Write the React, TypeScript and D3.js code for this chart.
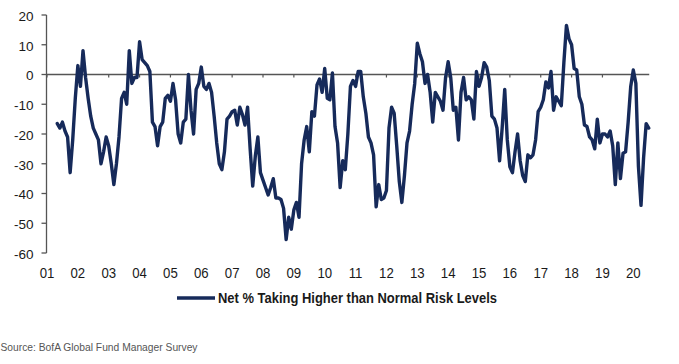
import React from "react";
import * as d3 from "d3";

// Monthly survey values, first point = May 2001
const startYear = 2001;
const startMonth = 5;
const riskValues: number[] = [
  // 2001 (May-Dec)
  -16.5, -18, -16, -19, -21, -33, -22, -8,
  // 2002
  3, -4, 8, -1, -8, -14, -18, -20, -22, -30, -26, -21,
  // 2003
  -24, -30, -37, -30, -21, -8, -6, -10, 8, -3, -1, -1,
  // 2004
  11, 5, 4, 3, 1, -16, -17.5, -24, -17.5, -16, -8, -7,
  // 2005
  -9, -3, -8.5, -20, -23, -16, -15, 0, -12, -20, -5, -3,
  // 2006
  2.5, -4, -5, -3, -6, -14, -23, -30, -32, -26, -15, -14,
  // 2007
  -12.5, -12, -17, -11, -13.5, -17, -11, -25, -37.5, -27.5, -21, -33,
  // 2008
  -35.5, -38, -40.5, -38, -35, -41.5, -41.5, -42, -45, -55.5, -48, -52,
  // 2009
  -45.5, -43, -48, -30, -22, -17.5, -26, -12.5, -14, -3.5, -1.5, -6,
  // 2010
  2, -8, -8.5, 0.5, -17.5, -23, -38, -29, -32, -20, -4, -2,
  // 2011
  -4, 1, 1, -7.5, -13, -21, -23, -27, -44.5, -37, -42, -41.5,
  // 2012
  -39, -18, -11, -13, -24, -36, -43, -34, -23, -19, -10, -3,
  // 2013
  10.5, 7, 4.3, -3, 0, -6, -16, -6, -7.5, -9, -12, -1,
  // 2014
  4.3, -1, -12, -11, -22, -6, -1, -8.5, -7.5, -8.5, -15, 1,
  // 2015
  -4, -1, 4, 2.5, -2, -14, -15, -18, -29, -18, -5, -22,
  // 2016
  -31, -33, -26, -20, -29, -34, -36, -27, -28, -27, -22, -12.5,
  // 2017
  -11, -8.5, -2.5, -4.5, 1, -12, -7.5, -9, -10.5, 4, 16.5, 12,
  // 2018
  10, 2, 1.5, -7.5, -10, -17, -17.5, -21, -22, -25, -15, -23,
  // 2019
  -20, -20, -21, -19, -24, -37, -23, -35, -26.5, -26, -16, -4,
  // 2020
  1.5, -3, -31, -44, -28, -16.5, -18,
];

const xTickYears = d3.range(2001, 2021);
const xTickLabels = xTickYears.map((y) => String(y % 100).padStart(2, "0"));
const yTicks = [20, 10, 0, -10, -20, -30, -40, -50, -60];

const seriesName = "Net % Taking Higher than Normal Risk Levels";
const sourceText = "Source: BofA Global Fund Manager Survey";

const W = 679;
const H = 364;
const LINE = "#162a5a";
const FONT = "'Liberation Sans', Arial, sans-serif";

export default function App() {
  const x = d3.scaleLinear().domain([2001, 2020]).range([47, 633.3]);
  const y = d3.scaleLinear().domain([-60, 20]).range([253, 15]);

  const pts = riskValues.map((v, i) => {
    const m = startMonth - 1 + i;
    return { t: startYear + m / 12, v };
  });
  const line = d3
    .line<{ t: number; v: number }>()
    .x((d) => x(d.t))
    .y((d) => y(d.v))
    .curve(d3.curveLinear);

  const axisX = 46.5;
  const zeroEnd = x(2020.5) + 0.5;

  return (
    <svg
      width={W}
      height={H}
      viewBox={`0 0 ${W} ${H}`}
      style={{ position: "absolute", left: 0, top: 0, background: "#fff", display: "block" }}
    >
      <rect x={0} y={0} width={W} height={H} fill="#ffffff" />
      {/* y axis */}
      <line x1={axisX} x2={axisX} y1={y(20)} y2={y(-60)} stroke="#555" strokeWidth={1.3} />
      {yTicks.map((t) => (
        <g key={t}>
          <line x1={axisX - 5} x2={axisX} y1={y(t)} y2={y(t)} stroke="#555" strokeWidth={1.3} />
          <text
            x={33.5}
            y={y(t) + 1}
            dy="0.36em"
            textAnchor="end"
            fontFamily={FONT}
            fontSize={13.5}
            fill="#1a1a1a"
          >
            {t}
          </text>
        </g>
      ))}
      {/* zero line */}
      <line x1={axisX} x2={zeroEnd} y1={y(0)} y2={y(0)} stroke="#555" strokeWidth={1.4} />
      {xTickYears.map((yr) => (
        <line key={yr} x1={x(yr)} x2={x(yr)} y1={y(0)} y2={y(0) + 3} stroke="#555" strokeWidth={1.2} />
      ))}
      {/* series */}
      <path
        d={line(pts) || ""}
        fill="none"
        stroke={LINE}
        strokeWidth={3.4}
        strokeLinejoin="round"
        strokeLinecap="round"
      />
      {/* x labels */}
      {xTickYears.map((yr, i) => (
        <text
          key={yr}
          transform={`translate(${x(yr)},${273}) scale(0.88,1)`}
          dy="0.36em"
          textAnchor="middle"
          fontFamily={FONT}
          fontSize={15}
          fill="#1a1a1a"
        >
          {xTickLabels[i]}
        </text>
      ))}
      {/* legend */}
      <line x1={177} x2={215} y1={298} y2={298} stroke={LINE} strokeWidth={3.4} />
      <text
        x={218}
        y={298}
        dy="0.36em"
        fontFamily={FONT}
        fontSize={15}
        fontWeight="bold"
        fill="#1a1a1a"
        textLength={279}
        lengthAdjust="spacingAndGlyphs"
      >
        {seriesName}
      </text>
      {/* source */}
      <text
        x={0.5}
        y={347}
        dy="0.36em"
        fontFamily={FONT}
        fontSize={11}
        fill="#555"
        textLength={197}
        lengthAdjust="spacingAndGlyphs"
      >
        {sourceText}
      </text>
    </svg>
  );
}
